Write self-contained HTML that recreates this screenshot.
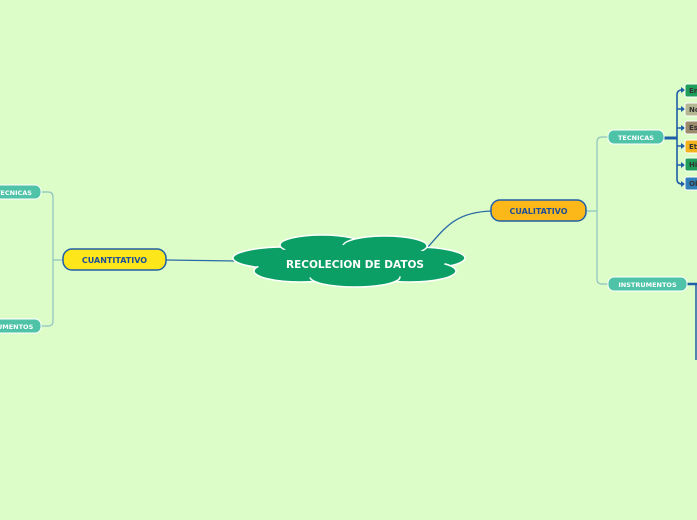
<!DOCTYPE html>
<html><head><style>
html,body{margin:0;padding:0;background:#dcfdc8;}
svg{display:block;font-family:"DejaVu Sans","Liberation Sans",sans-serif;font-weight:bold;}
</style></head><body>
<svg width="697" height="520" viewBox="0 0 697 520" xmlns="http://www.w3.org/2000/svg">
<rect width="697" height="520" fill="#dcfdc8"/>
<path d="M166 260 L236 261" stroke="#2a6aa8" stroke-width="1.3" fill="none"/>
<path d="M428 247 C445 228,455 212,492 211" stroke="#2a6aa8" stroke-width="1.3" fill="none"/>
<path d="M41 192 H48 Q53 192 53 197 V321 Q53 326 48 326 H41 M53 260 H63" stroke="#8ec3c0" stroke-width="1.2" fill="none"/>
<path d="M587 211 H597 M608 137 H602 Q597 137 597 142 V279 Q597 284 602 284 H608" stroke="#8ec3c0" stroke-width="1.2" fill="none"/>
<path d="M664 138 H677" stroke="#1f5fa8" stroke-width="3" fill="none"/>
<path d="M677 95 Q677 90 682 90 H684 M677 95 V179 Q677 184 682 184 H684 M677 109 H684 M677 128 H684 M677 146 H684 M677 165 H684" stroke="#1f5fa8" stroke-width="1.6" fill="none"/>
<g fill="#1f5fa8">
<path d="M685 90 l-4 -3 v6z"/><path d="M685 109 l-4 -3 v6z"/><path d="M685 128 l-4 -3 v6z"/><path d="M685 146 l-4 -3 v6z"/><path d="M685 165 l-4 -3 v6z"/><path d="M685 184 l-4 -3 v6z"/>
</g>
<g stroke="#ffffff" stroke-width="1">
<rect x="685" y="84" width="20" height="13" rx="2" fill="#1f9e5a"/>
<rect x="685" y="103" width="20" height="13" rx="2" fill="#b4b892"/>
<rect x="685" y="121" width="20" height="13" rx="2" fill="#9c8a6c"/>
<rect x="685" y="140" width="20" height="13" rx="2" fill="#f2b21c"/>
<rect x="685" y="158" width="20" height="13" rx="2" fill="#1f9e5a"/>
<rect x="685" y="177" width="20" height="13" rx="2" fill="#2f80b8"/>
</g>
<g font-size="7" fill="#333">
<text x="689" y="93">Em</text><text x="689" y="112">No</text><text x="689" y="130">Es</text><text x="689" y="149">Et</text><text x="689" y="167">Hi</text><text x="689" y="186">Ob</text>
</g>
<path d="M687 284 H697" stroke="#1f5fa8" stroke-width="2.5"/>
<path d="M696 284 V360" stroke="#1f5fa8" stroke-width="1.5"/>
<g fill="#0c9f65" stroke="#ffffff" stroke-width="1.5">
<ellipse cx="285" cy="258" rx="52" ry="11"/>
<ellipse cx="415" cy="258" rx="50" ry="11"/>
<ellipse cx="322" cy="245" rx="42" ry="10"/>
<ellipse cx="385" cy="246" rx="42" ry="10"/>
<ellipse cx="300" cy="271" rx="46" ry="11"/>
<ellipse cx="410" cy="271" rx="46" ry="11"/>
<ellipse cx="355" cy="277" rx="45" ry="10"/>
</g>
<ellipse cx="350" cy="262" rx="95" ry="17" fill="#0c9f65"/>
<text x="355" y="268" font-size="10.5" fill="#ffffff" text-anchor="middle">RECOLECION DE DATOS</text>
<rect x="63" y="249" width="103" height="21" rx="9" fill="#fde61a" stroke="#1f5fa8" stroke-width="1.5"/>
<text x="114.5" y="263" font-size="8" fill="#1f4f98" text-anchor="middle">CUANTITATIVO</text>
<rect x="491" y="200" width="95" height="21" rx="9" fill="#fbb818" stroke="#1f5fa8" stroke-width="1.5"/>
<text x="538.5" y="214" font-size="8" fill="#1f4f98" text-anchor="middle">CUALITATIVO</text>
<g fill="#4ec3a8" stroke="#ffffff" stroke-width="1">
<rect x="-20" y="185" width="61" height="14" rx="6"/>
<rect x="-20" y="319" width="61" height="14" rx="6"/>
<rect x="608" y="130" width="56" height="14" rx="6"/>
<rect x="608" y="277" width="79" height="14" rx="6"/>
</g>
<g font-size="6.5" fill="#ffffff">
<text x="-4" y="195">TECNICAS</text>
<text x="-25" y="329">INSTRUMENTOS</text>
<text x="636" y="140" text-anchor="middle">TECNICAS</text>
<text x="647.5" y="287" text-anchor="middle">INSTRUMENTOS</text>
</g>
</svg>
</body></html>
